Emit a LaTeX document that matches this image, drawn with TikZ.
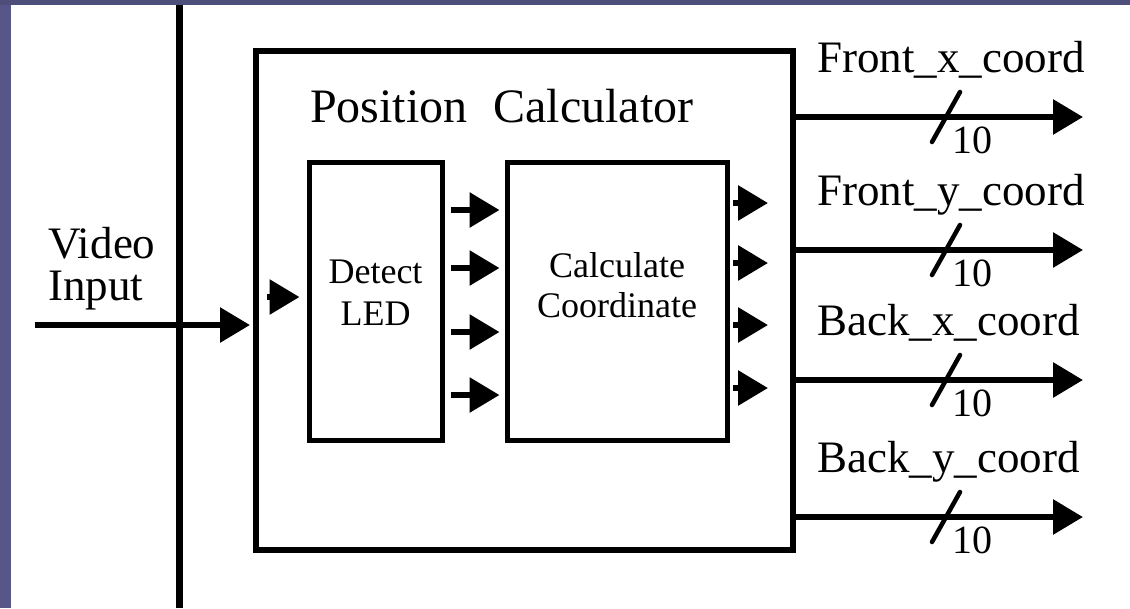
\documentclass[tikz,border=0pt]{standalone}
\usepackage{fontspec}
\setmainfont{Liberation Serif}
\usetikzlibrary{arrows.meta,positioning,calc}
\definecolor{slide}{RGB}{78,78,122}
\definecolor{slideside}{RGB}{86,86,136}
\tikzset{
  blk/.style={draw=black, line width=5pt, fill=white, inner sep=0pt},
  sig/.style={line width=6pt, -{Triangle[length=30pt,width=34pt]}},
  bus/.style={line width=7pt},
  slashln/.style={line width=4.5pt, line cap=round},
  lbl/.style={inner sep=0pt, font=\fontsize{45}{42}\selectfont},
  boxtxt/.style={inner sep=0pt, align=center, font=\fontsize{36}{42}\selectfont}
}

\begin{document}
\begin{tikzpicture}[x=1pt,y=-1pt]
  \useasboundingbox (0,0) rectangle (1130,608);
  \fill[slide] (0,0) rectangle (1130,608);
  \fill[slideside] (0,5) rectangle (11,608);
  \fill[white] (11,5) rectangle (1130,608);

  \coordinate (bustop) at (179,5);
  \coordinate (busbot) at (179,608);
  \draw[bus] (bustop) -- (busbot);

  \node[blk, line width=6pt, minimum width=537pt, minimum height=499pt] (pos) at (524.5,300.5) {};
  \node[blk, minimum width=133pt, minimum height=278pt] (detect) at (375.5,301) {};
  \node[blk, minimum width=220pt, minimum height=278pt] (coord) at (617,301) {};

  \node[lbl, font=\fontsize{48}{50}\selectfont, anchor=base west] (title) at ([xshift=57pt,yshift=-74pt]pos.north west) {Position\hspace{26pt}Calculator};
  \node[boxtxt, below=100pt of detect.north] (detecttxt) {Detect\\LED};
  \node[boxtxt, font=\fontsize{36}{40}\selectfont, below=93pt of coord.north] (coordtxt) {Calculate\\Coordinate};

  \node[lbl, align=left, anchor=north west] (vlbl) at (48,227) {Video\\Input};
  \coordinate (vin) at (35,325);
  \draw[sig] (vin) -- ($(pos.west |- vin)+(-3,0)$);
  \draw[sig] ($(detect.west)+(-40,-4)$) -- ($(detect.west)+(-7,-4)$);

  \foreach \y in {210,268,332,395}
    \draw[sig] ($(detect.east |- 0,\y)+(6,0)$) -- ($(coord.west |- 0,\y)+(-5,0)$);
  \foreach \y in {203,263,325,388}
    \draw[sig] ($(coord.east |- 0,\y)+(3.5,0)$) -- ($(coord.east |- 0,\y)+(38.5,0)$);

  \foreach \lab/\y [count=\i] in {Front\_x\_coord/117, Front\_y\_coord/250, Back\_x\_coord/380, Back\_y\_coord/517} {
    \coordinate (out\i) at (1083,\y);
    \draw[sig] (pos.east |- out\i) -- (out\i);
    \node[lbl, anchor=base west] (name\i) at ($(pos.east |- out\i)+(21,-45)$) {\lab};
    \coordinate (cut\i) at (946,\y);
    \draw[slashln] ($(cut\i)+(-14,25)$) -- ($(cut\i)+(14,-25)$);
    \node[lbl, font=\fontsize{40}{40}\selectfont, anchor=north west] (bits\i) at ($(cut\i)+(6,10)$) {10};
  }
\end{tikzpicture}
\end{document}
